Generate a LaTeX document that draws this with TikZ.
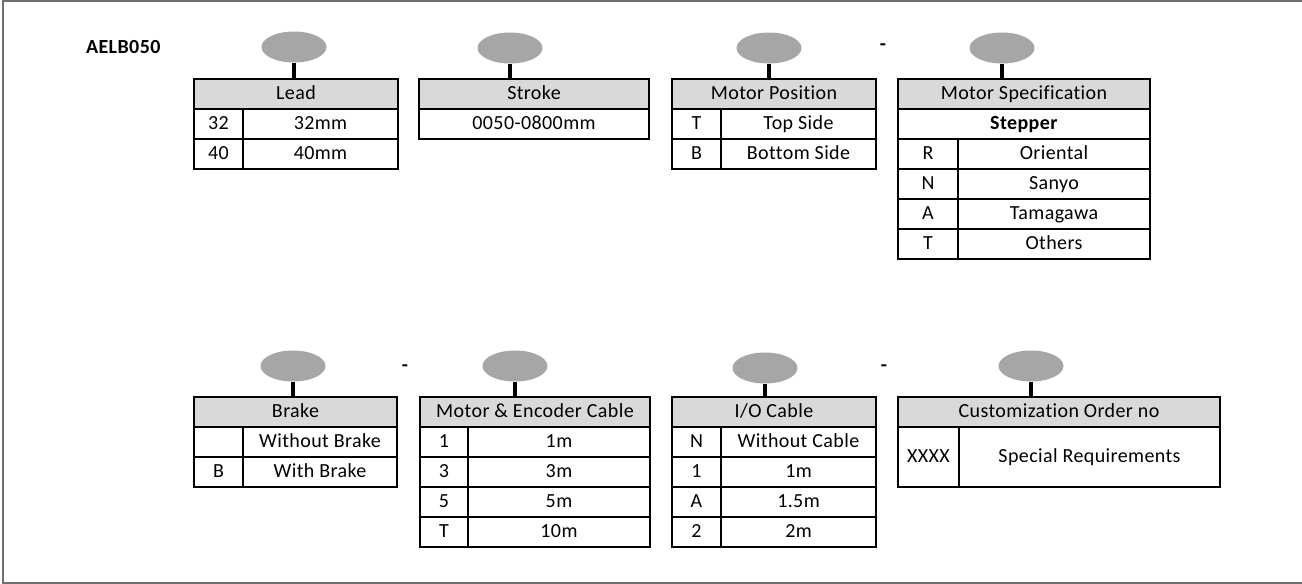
\documentclass[tikz,border=0pt]{standalone}
\usepackage{fontspec}
\setmainfont{Carlito}[LetterSpace=2,Ligatures=NoCommon]
\usetikzlibrary{shapes.geometric}
\definecolor{headgray}{HTML}{D9D9D9}
\definecolor{selgray}{HTML}{A6A6A6}
\definecolor{framegray}{HTML}{6E6E6E}
\tikzset{
	tabcell/.style={draw,line width=0.9pt,inner sep=0pt,text height=1.45ex,text depth=0.3ex,font=\fontsize{10}{12}\selectfont},
	rowcell/.style={fill=white},
	headcell/.style={fill=headgray},
	sel/.style={ellipse,fill=selgray,inner sep=0pt,minimum width=32.5pt,minimum height=15.5pt},
	stem/.style={line width=1.6pt},
	sep/.style={font=\bfseries\fontsize{10}{12}\selectfont}
}
\newcommand{\mkcell}[7][rowcell]{% #1: optional style, #2: name, #3: x1, #4: y1, #5: x2, #6: y2, #7: text
	\node[tabcell,#1,minimum width={((#5)-(#3))*0.5pt},minimum height={((#6)-(#4))*0.5pt}] (#2) at ({((#3)+(#5))/2},{((#4)+(#6))/2}) {#7};
}
\newcommand{\mksel}[4]{% #1: name, #2: x, #3: y, #4: header node
	\node[sel] (#1) at (#2,#3) {};
	\draw[stem] (#1.south) -- (#1.south |- #4.north);
}
\begin{document}
\begin{tikzpicture}[x=0.5pt,y=-0.5pt]
					\useasboundingbox (0,0) rectangle (1302,584);
					% Frame
					\draw[framegray,line width=1pt] (1303,1) -- (2.5,1) -- (2.5,582.5) -- (1303,582.5);
					
					% Model name
					\node[anchor=west,font=\bfseries\fontsize{10}{12}\selectfont] (model) at (79,47) {AELB050};
					
					% Lead
					\mkcell[headcell]{lead}{194}{79}{398}{109}{Lead}
					\mkcell{leadk1}{194}{109}{243}{139}{32}
					\mkcell{leadv1}{243}{109}{398}{139}{32mm}
					\mkcell{leadk2}{194}{139}{243}{169}{40}
					\mkcell{leadv2}{243}{139}{398}{169}{40mm}
					\mksel{leadsel}{294}{47}{lead}
					
					% Stroke
					\mkcell[headcell]{stroke}{419}{79}{649}{109}{Stroke}
					\mkcell{strokev}{419}{109}{649}{139}{0050-0800mm}
					\mksel{strokesel}{510}{48}{stroke}
					
					% Motor position
					\mkcell[headcell]{mpos}{672}{79}{876}{109}{Motor Position}
					\mkcell{mposk1}{672}{109}{721}{139}{T}
					\mkcell{mposv1}{721}{109}{876}{139}{Top Side}
					\mkcell{mposk2}{672}{139}{721}{169}{B}
					\mkcell{mposv2}{721}{139}{876}{169}{Bottom Side}
					\mksel{mpossel}{769}{48}{mpos}
					\node[sep] (dash1) at (883,47) {-};
					
					% Motor specification
					\mkcell[headcell]{mspec}{898}{79}{1150}{109}{Motor Specification}
					\mkcell{mspecs}{898}{109}{1150}{139}{\textbf{Stepper}}
					\foreach \k/\v [count=\i] in {R/Oriental,N/Sanyo,A/Tamagawa,T/Others}{
						\mkcell{mspeck\i}{898}{109+30*\i}{958}{139+30*\i}{\k}
						\mkcell{mspecv\i}{958}{109+30*\i}{1150}{139+30*\i}{\v}
					}
					\mksel{mspecsel}{1002}{48}{mspec}
					
					% Brake
					\mkcell[headcell]{brake}{194}{397}{397}{427}{Brake}
					\mkcell{brakek1}{194}{427}{243}{457}{}
					\mkcell{brakev1}{243}{427}{397}{457}{Without Brake}
					\mkcell{brakek2}{194}{457}{243}{487}{B}
					\mkcell{brakev2}{243}{457}{397}{487}{With Brake}
					\mksel{brakesel}{293}{366}{brake}
					\node[sep] (dash2) at (405,368) {-};
					
					% Motor & encoder cable
					\mkcell[headcell]{mcab}{420}{397}{650}{427}{Motor \& Encoder Cable}
					\foreach \k/\v [count=\i] in {1/1m,3/3m,5/5m,T/10m}{
						\mkcell{mcabk\i}{420}{397+30*\i}{468}{427+30*\i}{\k}
						\mkcell{mcabv\i}{468}{397+30*\i}{650}{427+30*\i}{\v}
					}
					\mksel{mcabsel}{515}{366}{mcab}
					
					% I/O cable
					\mkcell[headcell]{iocab}{672}{397}{876}{427}{I/O Cable}
					\foreach \k/\v [count=\i] in {N/Without Cable,1/1m,A/1.5m,2/2m}{
						\mkcell{iocabk\i}{672}{397+30*\i}{721}{427+30*\i}{\k}
						\mkcell{iocabv\i}{721}{397+30*\i}{876}{427+30*\i}{\v}
					}
					\mksel{iocabsel}{765}{368}{iocab}
					\node[sep] (dash3) at (884,368) {-};
					
					% Customization order no
					\mkcell[headcell]{cust}{898}{397}{1220}{427}{Customization Order no}
					\mkcell{custk}{898}{427}{959}{487}{XXXX}
					\mkcell{custv}{959}{427}{1220}{487}{Special Requirements}
					\mksel{custsel}{1031}{366}{cust}
				\end{tikzpicture}
\end{document}
